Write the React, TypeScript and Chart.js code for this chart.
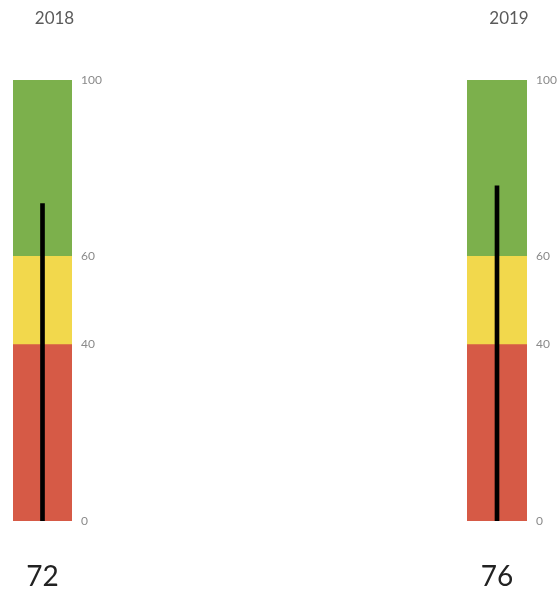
import React, { useEffect, useRef } from "react";
import { Chart, registerables } from "chart.js";

Chart.register(...registerables);

// ---- data ----
const years = ["2018", "2019"];
const values = [72, 76];
const bandStarts = [0, 40, 60];
const bandEnds = [40, 60, 100];
const bandColors = ["#D65A46", "#F2D84C", "#7CB04C"];
const tickValues = [0, 40, 60, 100];

// draws the year above and the value below each gauge
const gaugeTextPlugin = {
  id: "gaugeText",
  afterDraw(chart: any, _args: any, opts: any) {
    const ca = chart.chartArea;
    const cx = (ca.left + ca.right) / 2;
    const ctx = chart.ctx;
    ctx.save();
    ctx.textAlign = "center";
    ctx.textBaseline = "middle";
    ctx.font = "17px Lato";
    ctx.fillStyle = "#5a5a5a";
    ctx.fillText(String(opts.title), cx + opts.titleOffset, opts.titleY);
    ctx.font = "28px Lato";
    ctx.fillStyle = "#222222";
    ctx.fillText(String(opts.value), cx, opts.valueY);
    ctx.restore();
  },
};

type GaugeProps = {
  year: string;
  value: number;
  left: number;
  width: number;
  padLeft: number;
  axisWidth: number;
};

function Gauge({ year, value, left, width, padLeft, axisWidth }: GaugeProps) {
  const ref = useRef<HTMLCanvasElement>(null);
  useEffect(() => {
    if (!ref.current) return;
    const chart = new Chart(ref.current, {
      type: "bar",
      data: {
        labels: [year],
        datasets: [
          {
            data: [value],
            backgroundColor: "#000000",
            barThickness: 4,
            grouped: false,
            borderWidth: 0,
          } as any,
          ...(bandStarts.map((s, i) => ({
            data: [[s, bandEnds[i]]],
            backgroundColor: bandColors[i],
            barPercentage: 1,
            categoryPercentage: 1,
            grouped: false,
            borderWidth: 0,
          })) as any),
        ],
      },
      options: {
        responsive: false,
        animation: false,
        layout: { padding: { left: padLeft, right: 0, top: 80, bottom: 69 } },
        plugins: {
          legend: { display: false },
          tooltip: { enabled: false },
          title: { display: false },
          gaugeText: { title: year, value, titleOffset: 12, titleY: 18.2, valueY: 577 },
        } as any,
        scales: {
          x: { display: false },
          y: {
            position: "right",
            min: 0,
            max: 100,
            grid: { display: false, drawTicks: false },
            border: { display: false },
            afterBuildTicks: (scale: any) => {
              scale.ticks = tickValues.map((v) => ({ value: v }));
            },
            afterFit: (scale: any) => {
              scale.width = axisWidth;
            },
            ticks: {
              padding: 9,
              color: "#8a8a8a",
              font: { family: "Lato", size: 12 },
            },
          },
        },
      },
      plugins: [gaugeTextPlugin],
    });
    return () => chart.destroy();
  }, [year, value, axisWidth, padLeft]);

  return (
    <div style={{ position: "absolute", left, top: 0, width, height: 590 }}>
      <canvas ref={ref} width={width} height={590} style={{ display: "block" }} />
    </div>
  );
}

export default function App() {
  return (
    <div
      style={{
        position: "absolute",
        left: 0,
        top: 0,
        width: 557,
        height: 590,
        overflow: "hidden",
      }}
    >
      <Gauge year={years[0]} value={values[0]} left={0} width={109} padLeft={13} axisWidth={37} />
      <Gauge year={years[1]} value={values[1]} left={462} width={95} padLeft={5} axisWidth={30} />
    </div>
  );
}
